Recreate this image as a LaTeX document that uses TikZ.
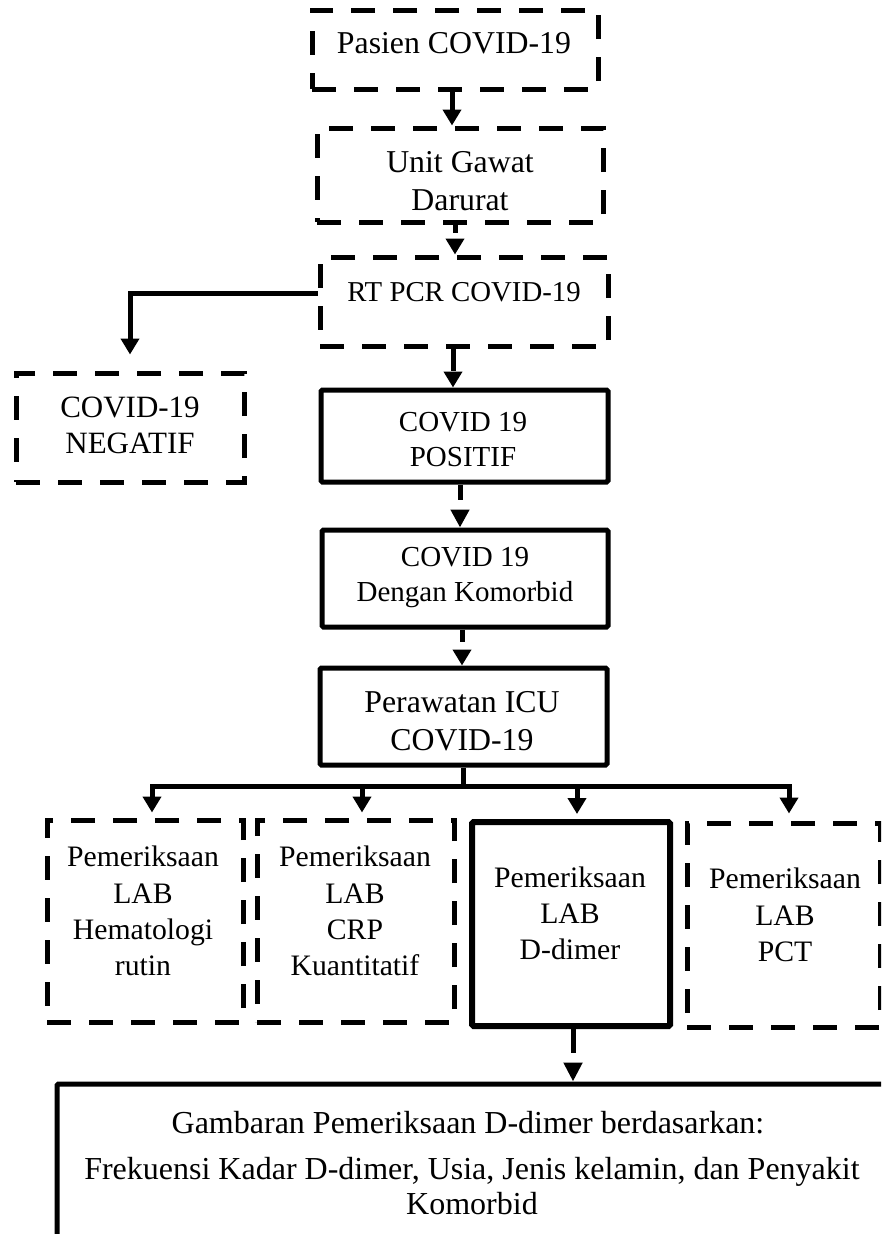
\documentclass[tikz,border=0pt]{standalone}
\usepackage{fontspec}
\setmainfont{Liberation Serif}
\usetikzlibrary{arrows.meta,calc}
\newcommand\fsBig{\fontsize{31.8}{38}\selectfont}
\newcommand\fsNeg{\fontsize{31}{36}\selectfont}
\newcommand\fsRt{\fontsize{28.8}{34}\selectfont}
\newcommand\fsMid{\fontsize{29}{35}\selectfont}
\newcommand\fsLab{\fontsize{29.7}{36.3}\selectfont}
\newcommand\fsFin{\fontsize{32}{35}\selectfont}
\begin{document}
\begin{tikzpicture}[x=1pt,y=-1pt,
  dbox/.style={draw, line width=5pt, dash pattern=on 24pt off 18pt, inner sep=0pt},
  sbox/.style={draw, line width=5pt, inner sep=0pt, rounded corners=1.5pt},
  txt/.style={align=center, inner sep=0pt},
  conn/.style={line width=5pt, -{Triangle[length=16pt,width=18pt]}},
  busline/.style={line width=5pt, line cap=rect}]
\clip (0,0) rectangle (881,1234);
\fill[white] (0,0) rectangle (881,1234);

% boxes
\node[dbox, minimum width=286pt, minimum height=79pt] (pasien) at (455,49.5) {};
\node[dbox, minimum width=286pt, minimum height=94pt] (ugd) at (460,175) {};
\node[dbox, minimum width=288pt, minimum height=89pt] (rt) at (464,301.5) {};
\node[dbox, minimum width=228pt, minimum height=109pt] (neg) at (130,427.5) {};
\node[sbox, minimum width=287pt, minimum height=92pt] (pos) at (464.5,436) {};
\node[sbox, minimum width=286pt, minimum height=97pt] (kom) at (465,578.5) {};
\node[sbox, minimum width=287pt, minimum height=97pt] (icu) at (463.5,716.5) {};
\node[dbox, minimum width=196pt, minimum height=202pt] (lab1) at (145,921) {};
\node[dbox, minimum width=197pt, minimum height=202pt] (lab2) at (355.5,921) {};
\node[sbox, line width=6pt, minimum width=198pt, minimum height=204pt] (lab3) at (571,924) {};
\node[dbox, minimum width=193pt, minimum height=204pt] (lab4) at (783.5,925) {};
\node[sbox, minimum width=827pt, minimum height=156pt] (fin) at (470.5,1162) {};

% texts
\node[txt, font=\fsBig] (tpasien) at (454,43) {Pasien COVID-19};
\node[txt, font=\fsBig] (tugd) at (460,181) {Unit Gawat\\Darurat};
\node[txt, font=\fsRt] (trt) at (464,292) {RT PCR COVID-19};
\node[txt, font=\fsNeg] (tneg) at (130,425) {COVID-19\\NEGATIF};
\node[txt, font=\fsMid] (tpos) at (463,440) {COVID 19\\POSITIF};
\node[txt, font=\fsMid] (tkom) at (465,578) {COVID 19\\Dengan Komorbid};
\node[txt, font=\fsBig] (ticu) at (462,721) {Perawatan ICU\\COVID-19};
\node[txt, font=\fsLab] (tlab1) at (143,911) {Pemeriksaan\\LAB\\Hematologi\\rutin};
\node[txt, font=\fsLab] (tlab2) at (355,911) {Pemeriksaan\\LAB\\CRP\\Kuantitatif};
\node[txt, font=\fsLab] (tlab3) at (570,913.5) {Pemeriksaan\\LAB\\D-dimer};
\node[txt, font=\fsLab] (tlab4) at (785,915) {Pemeriksaan\\LAB\\PCT};
\node[txt, font=\fsFin] (tfin1) at (468,1123) {Gambaran Pemeriksaan D-dimer berdasarkan:};
\node[txt, font=\fsFin] (tfin2) at (472,1186) {Frekuensi Kadar D-dimer, Usia, Jenis kelamin, dan Penyakit\\Komorbid};

% connectors
\draw[conn] ([xshift=-3pt]pasien.south) -- ([xshift=-3pt]pasien.south |- ugd.north);
\draw[conn, dash pattern=on 8pt off 300pt] ([xshift=-5pt]ugd.south) -- ([xshift=-5pt]ugd.south |- rt.north);
\draw[conn, dash pattern=on 22pt off 300pt] ([xshift=-11pt]rt.south) -- ([xshift=-11pt]rt.south |- pos.north);
\draw[conn, dash pattern=on 15pt off 300pt, -{Triangle[length=18pt,width=18pt]}] ([xshift=-4.5pt]pos.south) -- ([xshift=-4.5pt]pos.south |- kom.north);
\draw[conn, dash pattern=on 12pt off 300pt] ([xshift=-3pt]kom.south) -- ([xshift=-3pt]kom.south |- icu.north);
\draw[conn, dash pattern=on 24pt off 300pt, -{Triangle[length=19pt,width=18pt]}] ([xshift=2pt]lab3.south) -- ([xshift=2pt]lab3.south |- fin.north);
\draw[conn, shorten >=16pt] ([yshift=8.5pt]rt.west) -| (neg.north);

% bus
\coordinate (bus) at (463,786);
\coordinate (b1) at (152,786);
\coordinate (b2) at (362,786);
\coordinate (b3) at (577,786);
\coordinate (b4) at (789,786);
\draw[line width=5pt] (icu.south) -- (icu.south |- bus);
\draw[busline] (b1) -- (b4);
\draw[conn, shorten >=5pt] (b1) -- (b1 |- lab1.north);
\draw[conn, shorten >=5pt] (b2) -- (b2 |- lab2.north);
\draw[conn, shorten >=5pt] (b3) -- (b3 |- lab3.north);
\draw[conn, shorten >=7pt] (b4) -- (b4 |- lab4.north);
\end{tikzpicture}
\end{document}
